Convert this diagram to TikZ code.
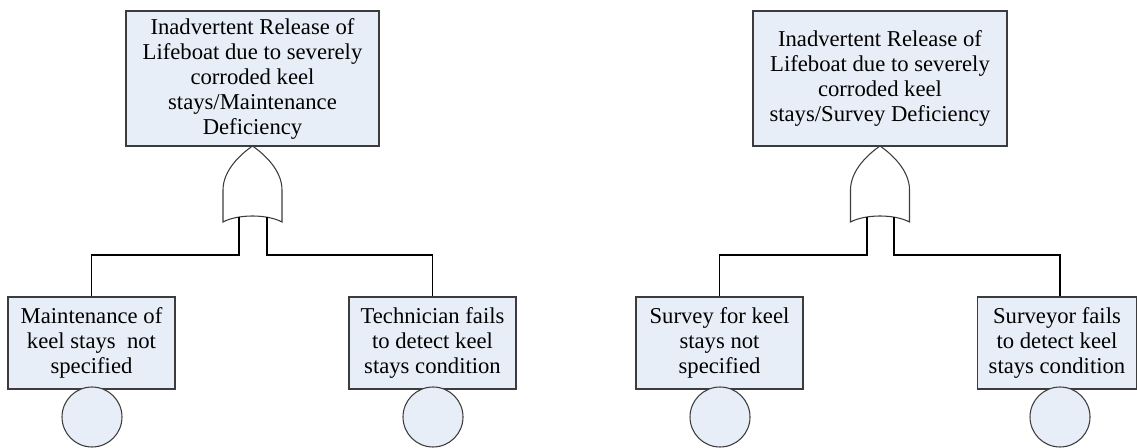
\documentclass[tikz,border=0pt]{standalone}
\usepackage{fontspec}
\setmainfont{Liberation Serif}
\usetikzlibrary{calc}
\definecolor{eventfill}{RGB}{232,238,247}
\definecolor{edge}{RGB}{60,60,60}
\begin{document}
\begin{tikzpicture}[x=0.75pt,y=-0.75pt,
  event/.style={draw=edge,fill=eventfill,line width=0.8pt,align=center,
    inner sep=0pt,font=\fontsize{17}{18.75}\selectfont},
  topevent/.style={event,minimum width=253*0.75pt,minimum height=135*0.75pt},
  basicbox/.style={event,minimum width=167*0.75pt,minimum height=92*0.75pt},
  basiccircle/.style={circle,draw=edge,fill=eventfill,line width=0.8pt,
    minimum size=60*0.75pt,inner sep=0pt},
  orgate/.style={draw=edge,fill=white,line width=0.8pt},
  wire/.style={draw=black,line width=0.8pt}]
\useasboundingbox (0,0) rectangle (1137,448);

% ---------- Maintenance deficiency tree ----------
\node[topevent] (topM) at (252.5,78.5)
  {Inadvertent Release of\\Lifeboat due to severely\\corroded keel\\stays/Maintenance\\Deficiency};
\draw[orgate] (252.5,146) .. controls (264,154) and (282,170) .. (282,190)
  -- (282,222) .. controls (267,214) and (238,214) .. (223,222)
  -- (223,190) .. controls (223,170) and (241,154) .. (252.5,146) -- cycle;
\coordinate (gMa) at (239,217);
\coordinate (gMb) at (267,217);

\node[basicbox] (m1) at (91.5,343) {Maintenance of\\keel stays\ \ not\\specified};
\node[basicbox] (m2) at (432.5,343) {Technician fails\\to detect keel\\stays condition};
\node[basiccircle] (m1c) at (92,417) {};
\node[basiccircle] (m2c) at (433,417) {};

\draw[wire] (gMa) -- (gMa |- 0,255) -| (m1.north);
\draw[wire] (gMb) -- (gMb |- 0,255) -| (m2.north);

% ---------- Survey deficiency tree ----------
\node[topevent,minimum width=254*0.75pt] (topS) at (880,78.5)
  {Inadvertent Release of\\Lifeboat due to severely\\corroded keel\\stays/Survey Deficiency};
\draw[orgate] (880,146) .. controls (891.5,154) and (909.5,170) .. (909.5,190)
  -- (909.5,222) .. controls (894.5,214) and (865.5,214) .. (850.5,222)
  -- (850.5,190) .. controls (850.5,170) and (868.5,154) .. (880,146) -- cycle;
\coordinate (gSa) at (867,217);
\coordinate (gSb) at (894,217);

\node[basicbox] (s1) at (719.5,343) {Survey for keel\\stays not\\specified};
\node[basicbox,minimum width=159*0.75pt] (s2) at (1057,343) {Surveyor fails\\to detect keel\\stays condition};
\node[basiccircle] (s1c) at (720,417) {};
\node[basiccircle] (s2c) at (1060,417) {};

\draw[wire] (gSa) -- (gSa |- 0,255) -| (s1.north);
\draw[wire] (gSb) -- (gSb |- 0,255) -| ($(s2.north)+(3,0)$);
\end{tikzpicture}
\end{document}
